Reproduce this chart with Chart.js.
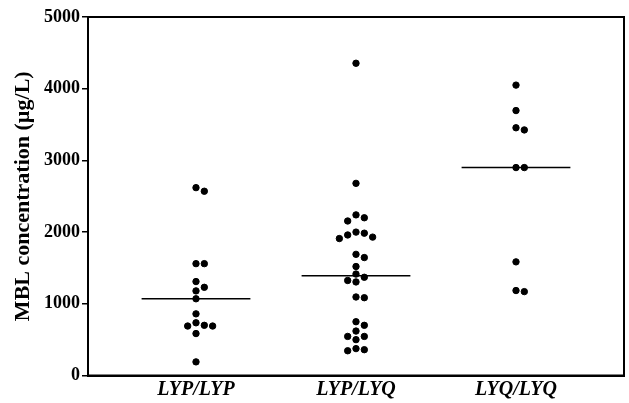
<!DOCTYPE html>
<html>
<head>
<meta charset="utf-8">
<script src="https://cdn.jsdelivr.net/npm/chart.js@4.4.1/dist/chart.umd.min.js"></script>
<style>
  html, body { margin: 0; padding: 0; background: #fff; }
</style>
</head>
<body>
<canvas id="myChart" width="629" height="403"></canvas>
<script>
// values (µg/L)
var categories = ['LYP/LYP', 'LYP/LYQ', 'LYQ/LYQ'];
var lypLyp = [2620, 2570, 1560, 1560, 1310, 1230, 1180, 1070, 860, 735, 700, 690, 690, 585, 190];
var lypLyq = [4355, 2680, 2240, 2200, 2155, 2000, 1985, 1960, 1930, 1910, 1690, 1645, 1520, 1415,
              1370, 1325, 1305, 1095, 1085, 750, 700, 620, 545, 545, 500, 375, 360, 345];
var lyqLyq = [4050, 3695, 3455, 3425, 2900, 2900, 1585, 1185, 1170];
var yTicks = [0, 1000, 2000, 3000, 4000, 5000];

var groups = [lypLyp, lypLyq, lyqLyq];
var serif = "'Liberation Serif', 'Times New Roman', serif";

// simple column scatter: push a dot sideways when it would overlap one above it
function swarm(values, center) {
    var slotW = 0.052, gap = 98;
    var placed = [];
    var sorted = values.slice().sort(function (a, b) { return b - a; });
    sorted.forEach(function (v) {
        var order = [0, 1, -1, 2, -2, 3, -3];
        for (var i = 0; i < order.length; i++) {
            var s = order[i];
            var hit = placed.some(function (p) { return p.s === s && Math.abs(p.v - v) < gap; });
            if (!hit) { placed.push({ s: s, v: v }); break; }
        }
    });
    return placed.map(function (p) { return { x: center + p.s * slotW, y: p.v }; });
}

function median(values) {
    var s = values.slice().sort(function (a, b) { return a - b; });
    var m = Math.floor(s.length / 2);
    return s.length % 2 ? s[m] : (s[m - 1] + s[m]) / 2;
}

var datasets = [];
groups.forEach(function (vals, i) {
    datasets.push({
        type: 'scatter',
        data: swarm(vals, i + 1),
        backgroundColor: '#000',
        borderColor: '#000',
        pointRadius: 3.2,
        pointHoverRadius: 3.2
    });
    var med = median(vals);
    datasets.push({
        type: 'line',
        data: [{ x: i + 1 - 0.34, y: med }, { x: i + 1 + 0.34, y: med }],
        borderColor: '#000',
        borderWidth: 1.5,
        pointRadius: 0,
        fill: false
    });
});

var frame = {
    id: 'frame',
    afterDraw: function (chart) {
        var a = chart.chartArea, c = chart.ctx;
        c.save();
        c.strokeStyle = '#000';
        c.lineWidth = 2;
        c.strokeRect(a.left, a.top, a.right - a.left, a.bottom - a.top);
        c.restore();
    }
};

var ctx = document.getElementById('myChart').getContext('2d');
var myChart = new Chart(ctx, {
    type: 'scatter',
    data: { datasets: datasets },
    plugins: [frame],
    options: {
        responsive: false,
        animation: false,
        layout: { padding: { top: 17, right: 5, left: 0, bottom: 0 } },
        plugins: {
            legend: { display: false },
            tooltip: { enabled: false }
        },
        scales: {
            x: {
                type: 'linear',
                min: 0.325,
                max: 3.675,
                afterBuildTicks: function (s) {
                    s.ticks = categories.map(function (c, i) { return { value: i + 1 }; });
                },
                afterFit: function (s) { s.height = 27.5; },
                ticks: {
                    color: '#000',
                    padding: 2,
                    font: { family: serif, size: 20, weight: 'bold', style: 'italic' },
                    callback: function (v) { return categories[v - 1]; }
                },
                grid: { display: false, drawTicks: false },
                border: { color: '#000', width: 2 }
            },
            y: {
                min: 0,
                max: 5000,
                afterBuildTicks: function (s) {
                    s.ticks = yTicks.map(function (v) { return { value: v }; });
                },
                afterFit: function (s) { s.width = 88; },
                ticks: {
                    color: '#000',
                    padding: 2,
                    font: { family: serif, size: 18, weight: 'bold' },
                    callback: function (v) { return String(v); }
                },
                grid: { drawOnChartArea: false, tickLength: 6, color: '#000', lineWidth: 1.5 },
                border: { color: '#000', width: 2 },
                title: {
                    display: true,
                    text: 'MBL concentration (µg/L)',
                    color: '#000',
                    font: { family: serif, size: 22, weight: 'bold' },
                    padding: { top: 10, bottom: 0 }
                }
            }
        }
    }
});
</script>
</body>
</html>
